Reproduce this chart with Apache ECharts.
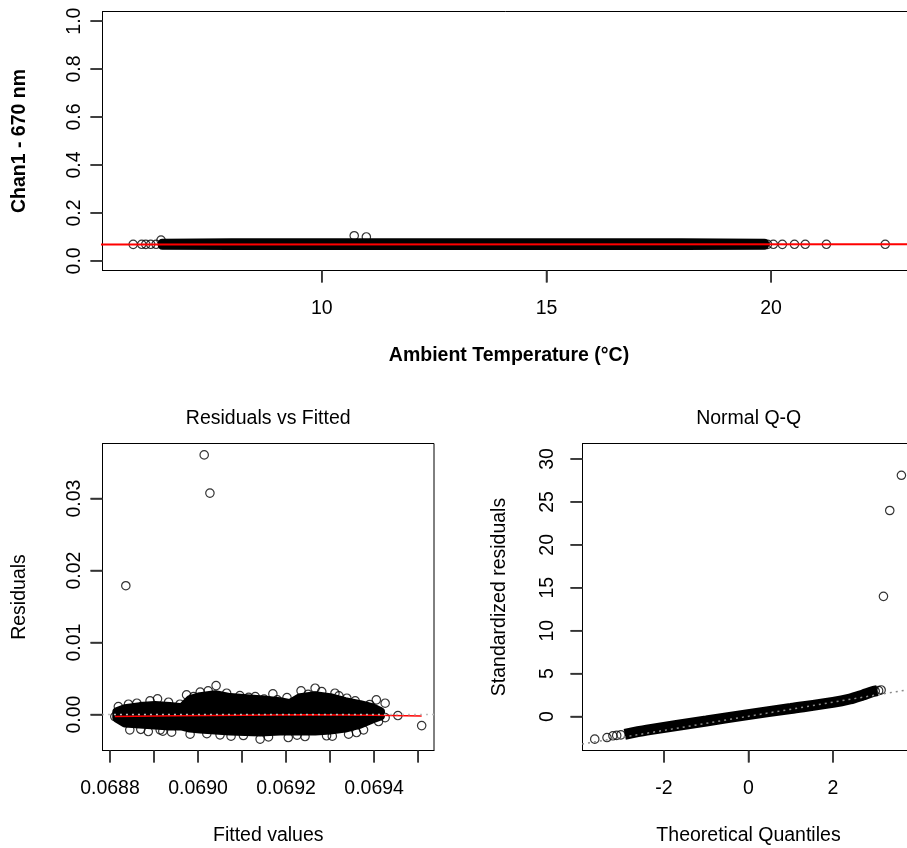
<!DOCTYPE html>
<html>
<head>
<meta charset="utf-8">
<script src="https://cdn.jsdelivr.net/npm/echarts@6/dist/echarts.min.js"></script>
<style>
html,body{margin:0;padding:0;background:#fff;}
#chart{width:907px;height:848px;}
</style>
</head>
<body>
<div id="chart"></div>
<script>
// ---------- Panel 1: Chan1 vs Ambient Temperature ----------
// dense core of the point cloud (temperature, low / high Chan1)
const topCoreT  = [6.45, 8.0, 10.0, 12.0, 14.0, 16.0, 18.0, 19.85];
const topCoreLo = [0.0660, 0.0650, 0.0650, 0.0650, 0.0650, 0.0650, 0.0650, 0.0660];
const topCoreHi = [0.0730, 0.0750, 0.0750, 0.0750, 0.0750, 0.0750, 0.0750, 0.0730];
// individually visible points
const topPtsT = [5.80, 5.99, 6.08, 6.19, 6.31, 6.42, 10.72, 10.99, 19.92, 20.05, 20.25, 20.52, 20.76, 21.23, 22.54];
const topPtsV = [0.0690, 0.0692, 0.0690, 0.0692, 0.0693, 0.0867, 0.1050, 0.0998, 0.0690, 0.0692, 0.0690, 0.0692, 0.0692, 0.0693, 0.0693];
// fitted regression line (end points)
const fitT = [5.0, 23.5];
const fitV = [0.068777, 0.069543];
const topXRange = [5.117, 23.214];
const topYRange = [-0.04, 1.04];
const topXTicks = [10, 15, 20];
const topYTicks = [0, 0.2, 0.4, 0.6, 0.8, 1.0];

// ---------- Panel 2: Residuals vs Fitted ----------
const resCoreF  = [0.068816, 0.068834, 0.068868, 0.068902, 0.068936, 0.068964, 0.068982, 0.069005, 0.069039, 0.069073, 0.069141, 0.069186, 0.069209, 0.069232, 0.069266, 0.069300, 0.069334, 0.069368, 0.069395, 0.069414];
const resCoreHi = [0.00037, 0.00079, 0.00107, 0.00121, 0.00107, 0.00093, 0.00204, 0.00245, 0.00273, 0.00232, 0.00204, 0.00176, 0.00148, 0.00232, 0.00259, 0.00232, 0.00176, 0.00135, 0.00093, 0.00037];
const resCoreLo = [-0.00046, -0.00115, -0.00129, -0.00143, -0.00157, -0.00157, -0.00184, -0.00198, -0.00212, -0.00226, -0.00240, -0.00226, -0.00226, -0.00226, -0.00226, -0.00212, -0.00184, -0.00129, -0.00060, -0.00018];
const resPtsF = [0.068811, 0.068819, 0.068842, 0.068861, 0.068891, 0.068908, 0.068933, 0.068959, 0.068974, 0.069005, 0.069023, 0.069041, 0.069065, 0.069095, 0.069130, 0.069170, 0.069202, 0.069234, 0.069266, 0.069281, 0.069311, 0.069338, 0.069357, 0.069405, 0.069425, 0.069454, 0.069508,
                 0.068845, 0.068887, 0.068914, 0.068940, 0.068982, 0.069050, 0.069103, 0.069141, 0.069205, 0.069243, 0.069292, 0.069342, 0.069376, 0.069410, 0.069425, 0.069414,
                 0.068990, 0.069115, 0.069150, 0.069180, 0.069250, 0.069320, 0.069390, 0.068870, 0.068920, 0.069020, 0.069075, 0.069160, 0.069225, 0.069305, 0.069360,
                 0.069014, 0.069027, 0.068836];
const resPtsR = [-0.00028, 0.00111, 0.00144, 0.00158, 0.00190, 0.00218, 0.00172, 0.00144, 0.00273, 0.00311, 0.00329, 0.00402, 0.00297, 0.00264, 0.00250, 0.00287, 0.00236, 0.00329, 0.00366, 0.00319, 0.00297, 0.00227, 0.00190, 0.00204, 0.00158, -0.00014, -0.00153,
                 -0.00212, -0.00236, -0.00212, -0.00244, -0.00272, -0.00282, -0.00291, -0.00341, -0.00319, -0.00305, -0.00295, -0.00272, -0.00212, -0.00097, -0.00042, 0.00033,
                 0.00250, 0.00240, 0.00215, 0.00205, 0.00280, 0.00260, 0.00140, -0.00205, -0.00230, -0.00265, -0.00300, -0.00310, -0.00285, -0.00300, -0.00250,
                 0.03606, 0.03075, 0.01789];
const smoothF = [0.068811, 0.06895, 0.06910, 0.06925, 0.06940, 0.069508];
const smoothR = [-0.00028, -0.00018, -0.00008, -0.00003, -0.00008, -0.00020];
const zeroF = [0.0687, 0.0696];
const zeroR = [0, 0];
const resXRange = [0.068783, 0.069536];
const resYRange = [-0.00499, 0.03764];
const resXTicks = [0.0688, 0.0689, 0.0690, 0.0691, 0.0692, 0.0693, 0.0694, 0.0695];
const resXLabels = [0.0688, 0.0690, 0.0692, 0.0694];
const resYTicks = [0, 0.01, 0.02, 0.03];

// ---------- Panel 3: Normal Q-Q ----------
const qqCoreQ = [-2.93, -2.41, -1.0, -0.05, 1.0, 2.0, 2.40, 2.71, 2.95, 3.05];
const qqCoreS = [-2.07, -1.58, -0.52, 0.20, 0.94, 1.65, 2.05, 2.52, 2.91, 3.02];
const qqPtsQ = [-3.64, -3.35, -3.21, -3.12, -3.02, 3.00, 3.08, 3.14, 3.195, 3.344, 3.62];
const qqPtsS = [-2.63, -2.44, -2.24, -2.19, -2.13, 2.95, 3.02, 3.10, 14.0, 24.0, 28.1];
const qqLineQ = [-4.5, 4.5];
const qqLineS = [-3.654, 3.726];
const qqXRange = [-3.93, 3.93];
const qqYRange = [-3.95, 31.8];
const qqXTicks = [-2, 0, 2];
const qqYTicks = [0, 5, 10, 15, 20, 25, 30];

// ---------- build ----------
const FONT = '"Liberation Sans", Arial, Helvetica, sans-serif';
const FS = 19.5;
const TICK_LEN = 12;
const zip = (a, b) => a.map((v, i) => [v, b[i]]);

function coreSeries(idx, xs, lo, hi, lw) {
  return {
    type: 'custom', xAxisIndex: idx, yAxisIndex: idx, silent: true, animation: false,
    data: [[xs[0], lo[0]]],
    renderItem: function (params, api) {
      const pts = [];
      for (let i = 0; i < xs.length; i++) pts.push(api.coord([xs[i], hi[i]]));
      for (let i = xs.length - 1; i >= 0; i--) pts.push(api.coord([xs[i], lo[i]]));
      return { type: 'polygon', shape: { points: pts },
        style: { fill: '#000', stroke: '#000', lineWidth: lw, lineJoin: 'round' } };
    }
  };
}
// outward axis tick marks, placed through the axis scales
function tickSeries(idx, ticks, edge, isX) {
  return {
    type: 'custom', xAxisIndex: idx, yAxisIndex: idx, silent: true, animation: false, clip: false, z: 10,
    data: ticks.map(v => isX ? [v, edge] : [edge, v]),
    renderItem: function (params, api) {
      const c = api.coord([api.value(0), api.value(1)]);
      if (isX) {
        return { type: 'line', shape: { x1: c[0], y1: c[1], x2: c[0], y2: c[1] + TICK_LEN },
          style: { stroke: '#333', lineWidth: 1.5 } };
      }
      return { type: 'line', shape: { x1: c[0] - TICK_LEN, y1: c[1], x2: c[0], y2: c[1] },
        style: { stroke: '#333', lineWidth: 1.5 } };
    }
  };
}
function pointSeries(idx, xs, ys) {
  return { type: 'scatter', xAxisIndex: idx, yAxisIndex: idx, data: zip(xs, ys),
    symbol: 'circle', symbolSize: 8.4, silent: true, animation: false,
    itemStyle: { color: 'rgba(0,0,0,0)', borderColor: '#000', borderWidth: 1.2 } };
}
function lineSeries(idx, xs, ys, color, width, type, z, smooth) {
  return { type: 'line', xAxisIndex: idx, yAxisIndex: idx, data: zip(xs, ys),
    showSymbol: false, symbol: 'none', clip: true, silent: true, animation: false, z: z || 3,
    smooth: smooth || false,
    lineStyle: { color: color, width: width, type: type || 'solid' } };
}
function xAxisOf(idx, range, ticks, labels, fmt, name, bold) {
  return { type: 'value', gridIndex: idx, min: range[0], max: range[1],
    axisLine: { show: true, onZero: false, lineStyle: { color: '#000', width: 1 } }, splitLine: { show: false },
    axisTick: { show: true, inside: false, length: TICK_LEN, customValues: ticks, lineStyle: { color: '#333', width: 1.5 } },
    axisLabel: { show: true, customValues: labels, margin: 28, color: '#000', fontSize: FS, fontFamily: FONT, formatter: fmt },
    name: name, nameLocation: 'middle', nameGap: 75,
    nameTextStyle: { color: '#000', fontSize: FS, fontFamily: FONT, fontWeight: bold ? 'bold' : 'normal' } };
}
function yAxisOf(idx, range, ticks, fmt, name, bold, margin) {
  return { type: 'value', gridIndex: idx, min: range[0], max: range[1],
    axisLine: { show: true, onZero: false, lineStyle: { color: '#000', width: 1 } }, splitLine: { show: false },
    axisTick: { show: true, inside: false, length: TICK_LEN, customValues: ticks, lineStyle: { color: '#333', width: 1.5 } },
    axisLabel: { show: true, customValues: ticks, rotate: 90, margin: margin, color: '#000', fontSize: FS, fontFamily: FONT, formatter: fmt },
    name: name, nameLocation: 'middle', nameGap: 73,
    nameTextStyle: { color: '#000', fontSize: FS, fontFamily: FONT, fontWeight: bold ? 'bold' : 'normal' } };
}
const gridBase = { show: true, borderColor: '#000', borderWidth: 1, containLabel: false, outerBoundsMode: 'none' };

const option = {
  animation: false,
  grid: [
    Object.assign({ left: 102.5, top: 11.5, width: 813, height: 259 }, gridBase),
    Object.assign({ left: 102.5, top: 443.5, width: 331.5, height: 307 }, gridBase),
    Object.assign({ left: 582.5, top: 443.5, width: 332, height: 307 }, gridBase)
  ],
  xAxis: [
    xAxisOf(0, topXRange, topXTicks, topXTicks, v => String(v), 'Ambient Temperature (°C)', true),
    xAxisOf(1, resXRange, resXTicks, resXLabels, v => v.toFixed(4), 'Fitted values', false),
    xAxisOf(2, qqXRange, qqXTicks, qqXTicks, v => String(v), 'Theoretical Quantiles', false)
  ],
  yAxis: [
    yAxisOf(0, topYRange, topYTicks, v => v.toFixed(1), 'Chan1 - 670 nm', true, 17.5),
    yAxisOf(1, resYRange, resYTicks, v => v.toFixed(2), 'Residuals', false, 17.5),
    yAxisOf(2, qqYRange, qqYTicks, v => String(v), 'Standardized residuals', false, 24.5)
  ],
  title: [
    { text: 'Residuals vs Fitted', left: 268.2, top: 409, textAlign: 'center', padding: 0,
      textStyle: { fontSize: FS, fontWeight: 'normal', fontFamily: FONT, color: '#000' } },
    { text: 'Normal Q-Q', left: 748.7, top: 409, textAlign: 'center', padding: 0,
      textStyle: { fontSize: FS, fontWeight: 'normal', fontFamily: FONT, color: '#000' } }
  ],
  series: [
    coreSeries(0, topCoreT, topCoreLo, topCoreHi, 9.5),
    pointSeries(0, topPtsT, topPtsV),
    lineSeries(0, fitT, fitV, '#ff0000', 2, 'solid', 5),
    tickSeries(0, topXTicks, topYRange[0], true),
    tickSeries(0, topYTicks, topXRange[0], false),

    coreSeries(1, resCoreF, resCoreLo, resCoreHi, 9.5),
    pointSeries(1, resPtsF, resPtsR),
    lineSeries(1, smoothF, smoothR, '#ff0000', 1.5, 'solid', 5),
    lineSeries(1, zeroF, zeroR, '#bebebe', 1.5, [2, 4], 6),
    tickSeries(1, resXTicks, resYRange[0], true),
    tickSeries(1, resYTicks, resXRange[0], false),

    lineSeries(2, qqCoreQ, qqCoreS, '#000', 11, 'solid', 2, 0.3),
    pointSeries(2, qqPtsQ, qqPtsS),
    lineSeries(2, qqLineQ, qqLineS, '#8a8a8a', 1.5, [2, 4], 6),
    tickSeries(2, qqXTicks, qqYRange[0], true),
    tickSeries(2, qqYTicks, qqXRange[0], false)
  ]
};
const chart = echarts.init(document.getElementById('chart'), null, { renderer: 'canvas', width: 907, height: 848 });
chart.setOption(option);
</script>
</body>
</html>
